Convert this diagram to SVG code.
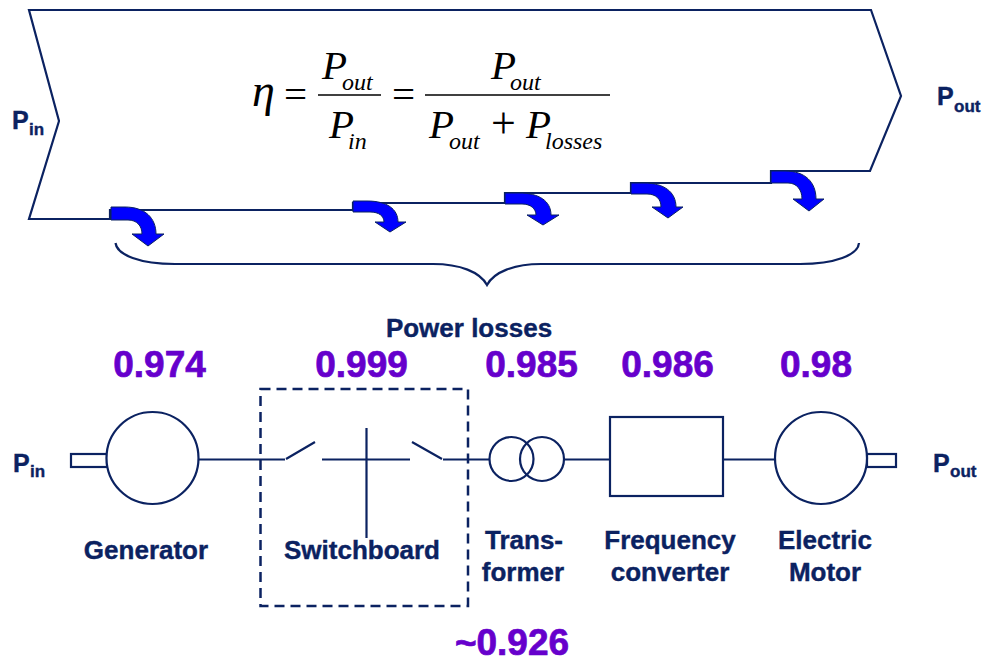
<svg xmlns="http://www.w3.org/2000/svg" width="983" height="658" viewBox="0 0 983 658">
<style>
.ln{fill:none;stroke:#0b2261;stroke-width:2.200}
.ds{stroke-width:2.500;stroke-dasharray:10 6}
.wh{fill:#fff}
.fr{fill:none;stroke:#000;stroke-width:1.500}
.ar{fill:#0000ff;stroke:#0b2261;stroke-width:1}
text{font-family:"Liberation Sans",Arial,sans-serif;font-weight:bold;fill:#0b2261;stroke:#0b2261;stroke-width:.4}
.lb{font-size:26px;text-anchor:middle}
.p{font-size:25px}
.s{font-size:17px}
.n{font-size:37px;fill:#6600cc;stroke:#6600cc;stroke-width:.7;text-anchor:middle}
.m{font-family:"Liberation Serif","Times New Roman",serif;font-style:italic;font-weight:normal;fill:#000;stroke:none;font-size:41px}
.ms{font-size:24px}
.mo{font-style:normal}
</style>
<g id="flow-band">
<path class="ln" d="M29,10H871L901,96L870,171H771V183H631V193H505V203H353V210H110V219H29L59,121Z"/>
</g>
<g id="formula">
<text class="m" x="252" y="106" style="font-size:46px">η</text>
<text class="m mo" x="284" y="108">=</text>
<text class="m" x="322" y="79">P<tspan class="ms" x="342" y="90">out</tspan></text>
<line class="fr" x1="318" y1="95" x2="381" y2="95"/>
<text class="m" x="329" y="138">P<tspan class="ms" x="348" y="149">in</tspan></text>
<text class="m mo" x="392" y="108">=</text>
<text class="m" x="491" y="79">P<tspan class="ms" x="510" y="90">out</tspan></text>
<line class="fr" x1="425" y1="95" x2="610" y2="95"/>
<text class="m" x="429" y="138">P<tspan class="ms" x="449" y="149">out</tspan></text>
<text class="m mo" x="491" y="138" style="font-size:44px">+</text>
<text class="m" x="526" y="138">P<tspan class="ms" x="545" y="149">losses</tspan></text>
</g>
<g id="loss-arrows">
<path class="ar" d="M111,207H125C145,207 156,218 156,234H164L148,246L132,234H142C142,226 137,220 128,220H111Z"/>
<path class="ar" d="M353,201H367C387,201 398,209 398,222H406L390,232L375,222H384C384,216 379,212 370,212H353Z"/>
<path class="ar" d="M505,193H519C539,193 551,201 551,215H559L543,225L527,215H536C536,209 531,204 522,204H505Z"/>
<path class="ar" d="M631,183H644C664,183 676,192 676,207H683L668,218L652,207H661C661,199 656,194 647,194H631Z"/>
<path class="ar" d="M771,171H785C805,171 816,182 816,199H824L809,211L793,199H802C802,190 797,183 788,183H771Z"/>
</g>
<g id="brace">
<path class="ln" d="M115.500,243C117,255 140,264 175,264H433C460,264 480,272 487,285C494,272 514,264 541,264H800C835,264 858,255 859,243"/>
</g>
<text class="p" x="12" y="129">P<tspan class="s" x="29" y="135">in</tspan></text>
<text class="p" x="937" y="105">P<tspan class="s" x="954" y="112">out</tspan></text>
<text class="lb" x="469" y="337">Power losses</text>
<text class="n" x="159.500" y="377">0.974</text>
<text class="n" x="361.500" y="377">0.999</text>
<text class="n" x="531.500" y="377">0.985</text>
<text class="n" x="667.500" y="377">0.986</text>
<text class="n" x="816" y="377">0.98</text>
<text class="n" x="512" y="655">~0.926</text>
<g id="connectors">
<path class="ln" d="M198,459.500H285M443,459.500H489M565,459.500H610M723,459.500H775"/>
</g>
<g id="input-label"><text class="p" x="13" y="472">P<tspan class="s" x="30" y="477">in</tspan></text></g>
<g id="generator">
<rect class="ln" x="71" y="454" width="36" height="13"/>
<circle class="ln wh" cx="152.500" cy="458" r="46"/>
<text class="lb" x="146" y="559">Generator</text>
</g>
<g id="switchboard">
<rect class="ln ds" x="260.500" y="389" width="207.500" height="217"/>
<path class="ln" d="M286,459L315,442M322,459.500H410M366.500,428V538M412,442L442,459"/>
<text class="lb" x="362" y="559">Switchboard</text>
</g>
<g id="transformer">
<circle class="ln" cx="511.500" cy="459" r="22"/>
<circle class="ln" cx="542" cy="459" r="22"/>
<text class="lb" x="524" y="549">Trans-</text>
<text class="lb" x="523" y="581">former</text>
</g>
<g id="frequency-converter">
<rect class="ln" x="610" y="417" width="113" height="79"/>
<text class="lb" x="670" y="549">Frequency</text>
<text class="lb" x="670" y="581">converter</text>
</g>
<g id="motor">
<rect class="ln" x="867" y="454" width="29" height="13"/>
<circle class="ln wh" cx="821" cy="458" r="46"/>
<text class="lb" x="825" y="549">Electric</text>
<text class="lb" x="825" y="581">Motor</text>
</g>
<g id="output-label"><text class="p" x="933" y="472">P<tspan class="s" x="950" y="477">out</tspan></text></g>
</svg>
